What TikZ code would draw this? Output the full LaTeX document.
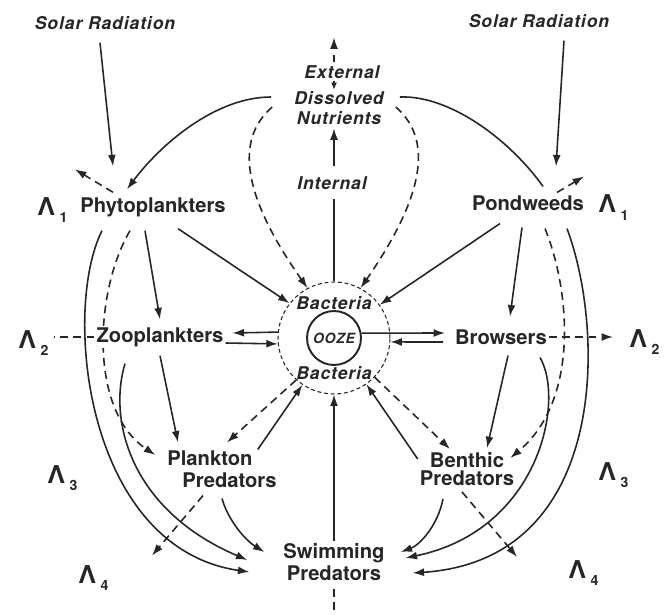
\documentclass[tikz,border=0pt]{standalone}
\usepackage{fontspec}
\setmainfont{TeX Gyre Heros}
\newfontfamily\notefont[LetterSpace=5]{TeX Gyre Heros}
\usetikzlibrary{arrows.meta,calc,backgrounds}
\definecolor{Ink}{HTML}{262626}
\definecolor{Paper}{HTML}{FFFFFF}
\newcommand{\lam}[1]{{\fontsize{14}{14}\selectfont Λ}\kern2.5pt\raisebox{-4pt}{\fontsize{8}{8}\selectfont #1}}

\begin{document}
\begin{tikzpicture}[x=0.02cm,y=-0.02cm,every node/.style={text=Ink,inner sep=1pt},organism/.style={font=\fontsize{11.5}{12.5}\selectfont\bfseries,align=center},note/.style={font=\notefont\fontsize{10}{11}\selectfont\bfseries\itshape,align=center},level/.style={font=\bfseries,anchor=base west,inner sep=0pt},flow/.style={draw=Ink,line width=0.9pt,-{Latex[length=6.5pt,width=4.5pt]}},leak/.style={flow,dash pattern=on 4.5pt off 3pt},link/.style={draw=Ink,line width=0.9pt}]
\useasboundingbox (0,0) rectangle (670,615);
\node[note] (sunL) at (105,23) {Solar Radiation};
\node[note] (sunR) at (539,21) {Solar Radiation};
\node[note] (ext) at (342,72) {External};
\node[note] (nutr) at (339,108) {Dissolved\\Nutrients};
\node[note] (int) at (332,183) {Internal};
\node[organism] (phyto) at (153,207) {Phytoplankters};
\node[organism] (pond) at (528,203) {Pondweeds};
\node[organism,fill=Paper] (zoo) at (160,337) {Zooplankters};
\node[organism] (brow) at (501,337) {Browsers};
\node[organism,align=left] (plpred) at (222,469) {Plankton\\\hspace*{0.3cm}Predators};
\node[organism] (bpred) at (467,469) {Benthic\\[-2pt]Predators};
\node[organism] (swim) at (334,562) {Swimming\\Predators};
\node[circle,draw=Ink,line width=0.6pt,dash pattern=on 2.2pt off 1.6pt,minimum size=2.24cm,inner sep=0pt] (bact) at (334,338) {};
\node[circle,draw=Ink,line width=1.1pt,minimum size=1.08cm,inner sep=0pt,font=\notefont\fontsize{8}{8}\selectfont\bfseries\itshape] (ooze) at (334,338) {OOZE};
\node[note] (bactN) at (334,303) {Bacteria};
\node[note] (bactS) at (334,373) {Bacteria};
\node[level] (lamL1) at (37,215) {\lam{1}};\node[level] (lamR1) at (598,213) {\lam{1}};
\node[level] (lamL2) at (18,348) {\lam{2}};\node[level] (lamR2) at (629,347) {\lam{2}};
\node[level] (lamL3) at (47,483) {\lam{3}};\node[level] (lamR3) at (598,480) {\lam{3}};
\node[level] (lamL4) at (78,583) {\lam{4}};\node[level] (lamR4) at (568,578) {\lam{4}};

\begin{scope}[on background layer]
\fill[Paper] (0,0) rectangle (670,615);
% sunlight and nutrients
\draw[flow] ($(sunL.south)+(-5,11)$) -- ($(phyto.north)+(-40,-29)$);
\draw[flow] ($(sunR.south)+(25,11)$) -- ($(pond.north)+(28,-27)$);
\draw[leak] ($(ext.north -| bact.north)+(0,-1)$) -- ($(ext.north -| bact.north)+(0,-26)$);
\draw[flow,-{Latex[length=4pt,width=3.5pt]}] (ext.south -| bact.north) -- (nutr.north -| bact.north);
\draw[flow] ($(int.north -| bact.north)+(0,-8)$) -- ($(nutr.south -| bact.north)+(0,2)$);
\draw[link] (bact.north) -- ($(int.south -| bact.north)+(0,7)$);
\draw[flow] ($(nutr.west)+(-21,-11)$) .. controls (215,97) and (160,145) .. ($(phyto.north)+(-26,-6)$);
\draw[link] ($(nutr.east)+(14,-11)$) .. controls (450,95) and (510,140) .. ($(pond.north)+(15,-7)$);
\draw[leak] ($(nutr.west)+(-20,-1)$) .. controls (240,135) and (235,185) .. (bact.118);
\draw[leak] ($(nutr.east)+(10,-1)$) .. controls (428,135) and (432,185) .. (bact.62);
% producers
\draw[leak] ($(phyto.north)+(-40,-3)$) -- ($(phyto.north)+(-78,-26)$);
\draw[leak] ($(pond.north)+(29,-1)$) -- ($(pond.north)+(56,-17)$);
\draw[flow] ($(phyto.south)+(25,10)$) -- (bact.142);
\draw[flow] ($(pond.south)+(-28,11)$) -- (bact.36);
\draw[flow] ($(phyto.south)+(-8,12)$) -- ($(zoo.north)+(0,-6)$);
\draw[flow] ($(pond.south)+(-6,15)$) -- ($(brow.north)+(9,-11)$);
\draw[flow] ($(phyto.south)+(-51,12)$) .. controls (62,310) and (85,548) .. ($(swim.west)+(-32,10)$);
\draw[flow] ($(pond.south)+(39,16)$) .. controls (605,330) and (610,560) .. ($(swim.east)+(26,11)$);
\draw[leak] ($(phyto.south)+(-23,12)$) .. controls (95,290) and (88,410) .. ($(plpred.west)+(-10,-14)$);
\draw[leak] ($(pond.south)+(17,16)$) .. controls (570,290) and (580,400) .. ($(bpred.north east)+(-6,8)$);
% herbivores
\draw[leak,-] (zoo.west) -- ($(zoo.west -| lamL2.east)+(5,0)$);
\draw[leak] (brow.east) -- ($(brow.east -| lamR2.west)+(-16,0)$);
\draw[flow] (bact.174) -- ($(zoo.east)+(7,-4)$);
\draw[flow] ($(zoo.east)+(0,6)$) -- (bact.186);
\draw[flow] (ooze.10) -- ($(brow.west)+(-8,-4)$);
\draw[flow] ($(brow.west)+(-10,5)$) -- (bact.-4);
\draw[flow] ($(zoo.south)+(0,7)$) -- ($(plpred.north)+(-44,-6)$);
\draw[flow] ($(brow.south)+(7,9)$) -- ($(bpred.north)+(20,-2)$);
\draw[flow] ($(zoo.south)+(-35,15)$) .. controls (108,420) and (130,510) .. ($(swim.west)+(-34,-2)$);
\draw[flow] ($(brow.south)+(39,11)$) .. controls (565,400) and (540,530) .. ($(swim.east)+(19,-4)$);
% carnivores
\draw[leak] (bact.228) -- ($(plpred.north)+(5,-6)$);
\draw[flow] ($(plpred.north east)+(-21,1)$) -- (bact.236);
\draw[flow] ($(bpred.north west)+(0,9)$) -- (bact.-55);
\draw[leak] (bact.-44) -- ($(bpred.north)+(-17,-1)$);
\draw[flow] ($(plpred.south)+(0,9)$) .. controls (228,520) and (245,540) .. ($(swim.west)+(-17,-10)$);
\draw[flow] ($(bpred.south)+(-24,11)$) .. controls (438,525) and (420,545) .. ($(swim.east)+(14,-10)$);
\draw[leak] ($(plpred.south)+(-19,6)$) -- ($(plpred.south)+(-70,66)$);
\draw[leak] ($(bpred.south)+(-5,4)$) -- ($(bpred.south)+(50,69)$);
\draw[flow] (swim.north) -- (bact.south);
\draw[leak,-] ($(swim.south)+(0,6)$) -- ($(swim.south)+(0,40)$);
\end{scope}
\end{tikzpicture}
\end{document}
